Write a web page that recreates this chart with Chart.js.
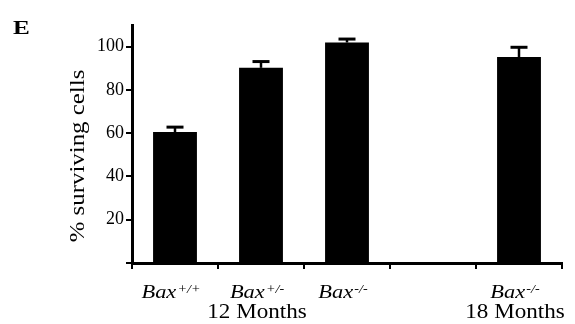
<!DOCTYPE html>
<html>
<head>
<meta charset="utf-8">
<script src="https://cdn.jsdelivr.net/npm/chart.js@4.4.1/dist/chart.umd.min.js"></script>
<style>
  html, body { margin: 0; padding: 0; background: #fff; }
</style>
</head>
<body>
<canvas id="grafico" width="575" height="324"></canvas>
<script>
// datos
const categorias = ['Bax+/+', 'Bax+/-', 'Bax-/-', '', 'Bax-/-'];
const genotipo = ['Bax', 'Bax', 'Bax', '', 'Bax'];
const superindices = ['+/+', '+/-', '-/-', '', '-/-'];
const supervivencia = [60.5, 90.2, 101.9, null, 95.2];
const errorSup = [2.3, 2.9, 1.6, null, 4.5]; // solo hacia arriba
const grupos = ['12 Months', '18 Months'];
const grupoPos = [1, 4];
const ticksY = [0, 20, 40, 60, 80, 100];
const tituloY = '% surviving cells';
const letraPanel = 'E';

const serif = '"Liberation Serif", "Times New Roman", serif';
const estirar = 1.18; // la figura original esta algo ensanchada

// barras de error, etiquetas y titulo
const extras = {
    id: 'extras',
    afterDatasetsDraw(chart) {
        const ctx = chart.ctx;
        const x = chart.scales.x, y = chart.scales.y;
        ctx.save();
        ctx.strokeStyle = '#000';
        supervivencia.forEach((v, i) => {
            if (v === null) return;
            const px = x.getPixelForValue(i);
            const y0 = y.getPixelForValue(v);
            const y1 = y.getPixelForValue(v + errorSup[i]);
            ctx.lineWidth = 2.5;
            ctx.beginPath();
            ctx.moveTo(px, y0);
            ctx.lineTo(px, y1);
            ctx.stroke();
            ctx.lineWidth = 3;
            ctx.beginPath();
            ctx.moveTo(px - 8.5, y1);
            ctx.lineTo(px + 8.5, y1);
            ctx.stroke();
        });
        ctx.restore();
    },
    afterDraw(chart) {
        const ctx = chart.ctx;
        const x = chart.scales.x;
        const area = chart.chartArea;
        const base = area.bottom;
        ctx.save();
        ctx.fillStyle = '#000';
        ctx.textBaseline = 'alphabetic';

        // genotipos con superindice
        genotipo.forEach((g, i) => {
            if (!g) return;
            ctx.font = 'italic 19px ' + serif;
            const w1 = ctx.measureText(g).width;
            ctx.font = 'italic 12px ' + serif;
            const w2 = ctx.measureText(superindices[i]).width;
            ctx.save();
            ctx.translate(x.getPixelForValue(i) - 4, base + 35);
            ctx.scale(estirar, 1);
            const start = -(w1 + w2 + 1) / 2;
            ctx.textAlign = 'left';
            ctx.font = 'italic 19px ' + serif;
            ctx.fillText(g, start, 0);
            ctx.font = 'italic 12px ' + serif;
            ctx.fillText(superindices[i], start + w1 + 1, -5);
            ctx.restore();
        });

        // grupos de edad
        ctx.font = '21px ' + serif;
        ctx.textAlign = 'center';
        grupos.forEach((t, k) => {
            ctx.save();
            ctx.translate(x.getPixelForValue(grupoPos[k]) - 4, base + 55);
            ctx.scale(1.1, 1);
            ctx.fillText(t, 0, 0);
            ctx.restore();
        });

        // titulo del eje y
        ctx.save();
        ctx.translate(84, (area.top + area.bottom) / 2 + 12);
        ctx.rotate(-Math.PI / 2);
        ctx.scale(1.13, 1);
        ctx.font = '22px ' + serif;
        ctx.textAlign = 'center';
        ctx.fillText(tituloY, 0, 0);
        ctx.restore();

        // letra del panel
        ctx.save();
        ctx.translate(13, 33.5);
        ctx.scale(1.4, 1);
        ctx.font = 'bold 18px ' + serif;
        ctx.textAlign = 'left';
        ctx.fillText(letraPanel, 0, 0);
        ctx.restore();

        ctx.restore();
    }
};

const ctx = document.getElementById('grafico').getContext('2d');
new Chart(ctx, {
    type: 'bar',
    data: {
        labels: categorias,
        datasets: [{
            data: supervivencia,
            backgroundColor: '#000',
            borderWidth: 0,
            categoryPercentage: 1,
            barPercentage: 0.51
        }]
    },
    options: {
        responsive: false,
        animation: false,
        layout: { padding: { left: 0, right: 13, top: 25, bottom: 0 } },
        plugins: { legend: { display: false }, tooltip: { enabled: false } },
        scales: {
            x: {
                grid: { display: true, offset: true, drawOnChartArea: false, drawTicks: true, tickLength: 6, color: '#000', lineWidth: 2 },
                border: { display: true, color: '#000', width: 3 },
                ticks: { display: false },
                afterFit(s) { s.height = 61; }
            },
            y: {
                min: 0,
                max: 110,
                grid: { display: true, drawOnChartArea: false, drawTicks: true, tickLength: 6, color: '#000', lineWidth: 2 },
                border: { display: true, color: '#000', width: 3 },
                afterBuildTicks(s) { s.ticks = ticksY.map(v => ({ value: v })); },
                ticks: {
                    color: '#000',
                    padding: 2,
                    font: { family: serif, size: 18 },
                    callback: v => v === 0 ? '' : v
                },
                afterFit(s) { s.width = 132; }
            }
        }
    },
    plugins: [extras]
});
</script>
</body>
</html>
